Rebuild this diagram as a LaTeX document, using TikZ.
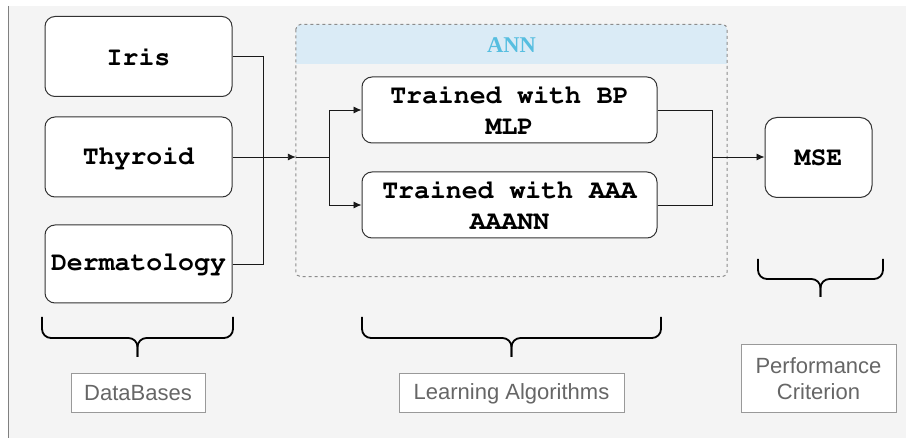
\documentclass[tikz,border=0pt]{standalone}
\usepackage[T1]{fontenc}
\usepackage{fontspec}
\setsansfont{Liberation Sans}
\newfontfamily\annfont{Liberation Serif}
\usetikzlibrary{arrows.meta}
\definecolor{bggray}{RGB}{244,244,244}
\definecolor{headblue}{RGB}{218,235,246}
\definecolor{anncyan}{RGB}{86,190,224}
\newcommand\codefont{\fontencoding{T1}\fontfamily{pcr}\fontseries{b}\fontsize{26.5}{31}\selectfont}
\begin{document}
\begin{tikzpicture}[x=1pt,y=-1pt,
  dbbox/.style={draw=black!80,line width=1pt,rounded corners=10pt,fill=white,font=\codefont,align=center,inner sep=1pt},
  tag/.style={draw=black!40,line width=1pt,fill=white,text=black!60,font=\sffamily\fontsize{22}{26}\selectfont,align=center,inner sep=0pt},
  link/.style={line width=0.9pt,black!90},
  tip/.style={-{Latex[length=8pt,width=7pt]}},
  bracket/.style={line width=1.8pt,rounded corners=9pt}]
\useasboundingbox (0,0) rectangle (906,438);
% background
\fill[bggray] (8,6) rectangle (906,438);
\draw[black!50,line width=1pt] (8,6) -- (8,438);

% ANN container
\node[minimum width=431pt,minimum height=252pt,inner sep=0pt] (ann) at (511.5,150.5) {};
\begin{scope}
\clip[rounded corners=5pt] (ann.north west) rectangle (ann.south east);
\fill[headblue] (ann.north west) rectangle ([yshift=-40pt]ann.north east);
\end{scope}
\draw[black!45,line width=1pt,dash pattern=on 3pt off 3pt,rounded corners=5pt] (ann.north west) rectangle (ann.south east);
\node[text=anncyan,font=\annfont\bfseries\fontsize{22.5}{26}\selectfont] (annlabel) at (511.5,45) {ANN};

% databases
\node[dbbox,minimum width=187pt,minimum height=80pt] (iris) at (138.5,56.5) {Iris};
\node[dbbox,minimum width=187pt,minimum height=80pt] (thyroid) at (138.5,157) {Thyroid};
\node[dbbox,minimum width=187pt,minimum height=78pt] (derma) at (138.5,264) {Dermatology};

% learning algorithms
\node[dbbox,minimum width=295pt,minimum height=66pt] (mlp) at (509.5,110) {Trained with BP\\MLP};
\node[dbbox,minimum width=295pt,minimum height=66pt] (aaann) at (509.5,205) {Trained with AAA\\AAANN};

% criterion
\node[dbbox,rounded corners=12pt,minimum width=107pt,minimum height=80pt] (mse) at (818.5,157.5) {MSE};

% connectors
\coordinate (dbjoin) at (263,157);
\coordinate (split) at (329,157);
\coordinate (merge) at (712,157);
\draw[link] (iris.east) -| (dbjoin);
\draw[link] (derma.east) -| (dbjoin);
\draw[link,tip] (thyroid.east) -- (thyroid.east -| ann.west);
\draw[link] (thyroid.east -| ann.west) -- (split);
\draw[link,tip] (split) |- (mlp.west);
\draw[link,tip] (split) |- (aaann.west);
\draw[link] (mlp.east) -| (merge);
\draw[link] (aaann.east) -| (merge);
\draw[link,tip] (merge) -- (merge -| mse.west);

% braces
\draw[bracket] (42,317) -- (42,338) -- (137.5,338) -- (137.5,357);
\draw[bracket] (233,317) -- (233,338) -- (137.5,338) -- (137.5,357);
\draw[bracket] (362,317) -- (362,338) -- (511.5,338) -- (511.5,357);
\draw[bracket] (661,317) -- (661,338) -- (511.5,338) -- (511.5,357);
\draw[bracket] (758,259) -- (758,279) -- (820.5,279) -- (820.5,297);
\draw[bracket] (883,259) -- (883,279) -- (820.5,279) -- (820.5,297);

% captions
\node[tag,minimum width=134pt,minimum height=39pt] (dbtag) at (138,393.5) {DataBases};
\node[tag,minimum width=225pt,minimum height=39pt] (algtag) at (511.5,393.5) {Learning Algorithms};
\node[tag,minimum width=155pt,minimum height=68pt] (perftag) at (818.5,379) {Performance\\Criterion};
\end{tikzpicture}
\end{document}
